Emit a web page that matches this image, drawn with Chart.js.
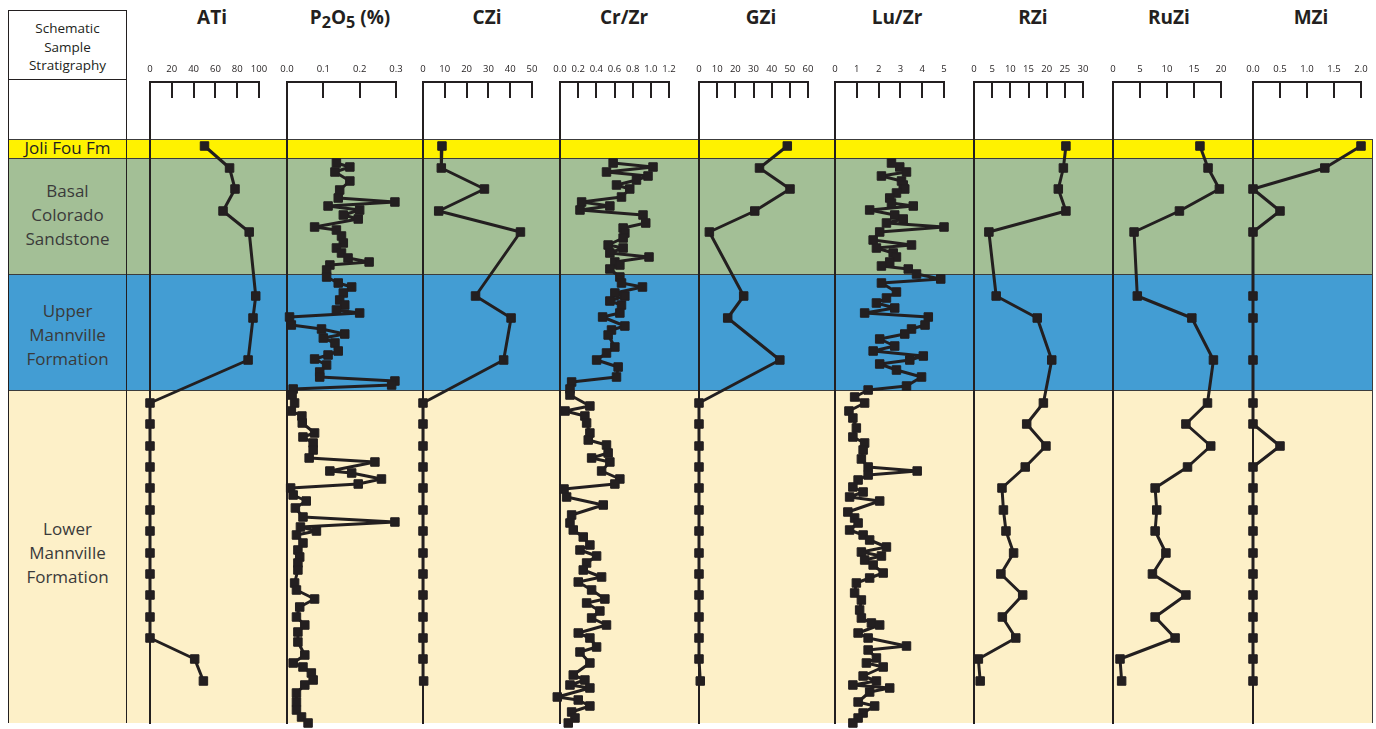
<!DOCTYPE html>
<html><head><meta charset="utf-8">
<script src="https://cdn.jsdelivr.net/npm/chart.js@4.4.1/dist/chart.umd.min.js"></script>
<style>
html,body{margin:0;padding:0;background:#fff;}
#wrap{position:relative;width:1376px;height:729px;overflow:hidden;font-family:"Open Sans",sans-serif;color:#231f20;}
#frame{position:absolute;left:8px;top:139px;width:1365px;height:584px;box-sizing:border-box;border:1px solid #3c3c3c;border-top:none;}
.band{position:absolute;left:0;width:100%;box-sizing:border-box;border-top:1.5px solid #3c3c3c;}
#leftbox{position:absolute;left:8px;top:10px;width:119px;height:713px;box-sizing:border-box;border:1.3px solid #231f20;border-bottom:none;}
#hdrline{position:absolute;left:0;top:68px;width:100%;border-top:1.3px solid #231f20;}
.hdr{position:absolute;left:0;width:100%;text-align:center;font-size:13.5px;line-height:18.5px;top:8px;}
.blab{position:absolute;left:8px;width:119px;text-align:center;font-size:17px;line-height:24px;color:#3a3a3a;}
canvas.panel{position:absolute;top:0;}
.title{position:absolute;top:8px;font-weight:700;font-size:19px;line-height:19px;color:#231f20;transform:translateX(-50%);white-space:nowrap;}
.title sub{font-size:0.85em;vertical-align:-0.22em;line-height:0;}
</style>
</head><body>
<div id="wrap">
  <div id="frame">
    <div class="band" style="top:0;height:19px;background:#fff200;"></div>
    <div class="band" style="top:19px;height:116px;background:#a3bf96;"></div>
    <div class="band" style="top:135px;height:116px;background:#439dd3;"></div>
    <div class="band" style="top:251px;height:333px;background:#fdf0c8;"></div>
  </div>
  <div id="leftbox">
    <div class="hdr">Schematic<br>Sample<br>Stratigraphy</div>
    <div id="hdrline"></div>
  </div>
  <div class="blab" style="top:137px;font-size:17px;line-height:22px;color:#231f20;">Joli Fou Fm</div>
  <div class="blab" style="top:179px;">Basal<br>Colorado<br>Sandstone</div>
  <div class="blab" style="top:299px;">Upper<br>Mannville<br>Formation</div>
  <div class="blab" style="top:517px;">Lower<br>Mannville<br>Formation</div>
</div>
<script>
// ---------- DATA ----------
const panelTitles = ['ATi', 'P<sub>2</sub>O<sub>5</sub> (%)', 'CZi', 'Cr/Zr', 'GZi', 'Lu/Zr', 'RZi', 'RuZi', 'MZi'];

// tick labels of each top axis
const atiTicks  = ['0','20','40','60','80','100'];
const p2o5Ticks = ['0.0','0.1','0.2','0.3'];
const cziTicks  = ['0','10','20','30','40','50'];
const crTicks   = ['0.0','0.2','0.4','0.6','0.8','1.0','1.2'];
const gziTicks  = ['0','10','20','30','40','50','60'];
const luTicks   = ['0','1','2','3','4','5'];
const rziTicks  = ['0','5','10','15','20','25','30'];
const ruziTicks = ['0','5','10','15','20'];
const mziTicks  = ['0.0','0.5','1.0','1.5','2.0'];

// relative sample depth (0 = top of plotting frame, increasing downwards)
const coarseDepth = [48,70,91,113,134,198,220,262,305,326,348,369,390,412,433,455,476,497,519,540,561,583];
const atiValues  = [50,73,78,67,91,97,94.5,90,0,0,0,0,0,0,0,0,0,0,0,0,41,49];
const cziValues  = [8.7,8.4,28.2,7.2,44.7,24.1,40.4,37.0,0,0,0,0,0,0,0,0,0,0,0,0,0,0.3];
const gziValues  = [48.6,33.3,50.1,30.7,5.7,24.6,15.8,44.5,0,0,0,0,0,0,0,0,0,0,0,0,0,0.7];
const rziValues  = [25.3,24.6,23.2,25.3,4.1,6.1,17.4,21.4,19.1,14.5,19.8,14.1,7.7,8.1,8.8,10.9,7.4,13.4,7.8,11.5,1.2,1.7];
const ruziValues = [16.1,17.6,19.7,12.3,3.9,4.5,14.6,18.6,17.5,13.5,18.1,13.8,7.8,8.1,7.8,9.8,7.3,13.5,7.8,11.5,1.3,1.6];
const mziValues  = [2.0,1.33,0,0.5,0,0,0,0,0,0,0.5,0,0,0,0,0,0,0,0,0,0,0];

const p2o5Depth = [65,69,74,83,92,100,104,108,112,117,121,129,132,138,145,150,155,160,164,167,172,179,185,189,195,202,207,212,215,219,227,231,236,240,245,253,257,261,267,274,279,283,287,291,297,305,313,318,325,335,339,345,352,360,364,373,375,381,386,390,397,403,410,419,424,429,433,437,445,452,459,465,472,485,492,501,509,519,527,534,544,557,565,569,575,582,587,595,604,612,619,625];
const p2o5Values = [.136,.173,.132,.173,.145,.141,.297,.113,.200,.155,.196,.076,.136,.150,.155,.136,.150,.168,.226,.118,.109,.109,.141,.178,.155,.145,.159,.136,.200,.007,.012,.095,.159,.100,.132,.141,.113,.076,.109,.090,.090,.297,.288,.017,.014,.021,.012,.041,.042,.076,.044,.072,.072,.061,.242,.118,.178,.260,.196,.010,.017,.053,.023,.044,.297,.037,.081,.026,.044,.030,.035,.030,.030,.021,.026,.076,.035,.026,.049,.030,.030,.049,.017,.044,.067,.072,.049,.026,.026,.026,.040,.058];

const crDepth = [65,69,74,78,82,87,91,99,104,108,112,117,125,130,135,140,147,150,155,159,164,167,171,179,185,189,195,198,203,207,215,219,228,232,237,249,255,262,269,279,284,291,297,308,313,318,325,335,342,347,355,360,364,373,381,386,391,399,407,417,425,432,439,447,452,458,465,472,479,484,492,501,505,513,520,527,535,540,549,554,565,577,582,587,590,599,602,608,614,620,625];
const crValues = [.585,1.024,.512,.969,.842,.622,.768,.677,.238,.549,.220,.914,.944,.695,.714,.695,.530,.695,.549,.980,.604,.659,.549,.659,.677,.908,.604,.714,.549,.677,.659,.469,.714,.567,.530,.604,.512,.403,.640,.622,.128,.110,.110,.329,.055,.274,.293,.329,.311,.512,.530,.348,.549,.458,.659,.604,.044,.073,.476,.128,.110,.146,.256,.329,.220,.403,.293,.256,.458,.201,.348,.494,.293,.439,.348,.512,.201,.329,.403,.220,.329,.146,.274,.110,.329,-.03,.201,.329,.128,.165,.091];

const luDepth = [65,69,74,78,83,87,91,95,100,105,108,112,117,121,125,129,134,142,147,150,155,159,164,168,171,176,181,185,194,200,205,210,215,219,227,231,236,241,248,253,258,262,266,272,279,288,292,299,305,313,320,330,339,345,352,361,369,373,377,382,389,394,399,403,414,420,425,432,437,442,449,454,458,462,467,475,480,485,495,502,512,520,525,527,535,540,548,552,560,565,569,578,583,587,590,594,604,608,615,620,625];
const luValues = [2.59,2.97,3.28,2.13,3.05,3.13,3.20,2.82,2.51,2.59,3.59,1.59,2.74,3.13,2.36,5.0,2.05,1.75,3.51,1.90,2.67,2.82,2.51,2.13,3.36,3.74,4.85,2.13,2.82,2.36,1.90,2.74,1.36,4.28,4.13,3.51,3.20,2.05,2.74,1.75,4.05,3.43,2.05,2.82,3.97,3.28,1.52,0.90,1.36,0.64,0.82,0.98,0.82,1.36,1.29,1.21,1.52,3.77,1.52,1.06,0.82,1.29,0.67,2.05,0.59,0.90,1.06,0.67,1.29,1.59,2.36,1.21,2.13,1.36,1.75,2.21,1.59,0.98,0.90,1.21,1.13,1.21,1.67,2.05,1.06,1.52,3.28,1.52,1.90,1.44,2.21,1.29,1.90,0.82,2.51,1.59,1.06,1.82,1.29,1.06,0.82];

// ---------- LAYOUT (pixel placement of each panel) ----------
const panelLeft  = [150, 287.3, 423.3, 560, 698.7, 835.4, 973.8, 1113, 1253];
const panelWidth = [109.3, 108.7, 109.4, 109.3, 108.6, 108.6, 109.2, 108.2, 108];
const titleCenter = [212, 350, 487, 624, 761, 897, 1033, 1169, 1311];

const series = [
  {ticks: atiTicks,  depth: coarseDepth, values: atiValues},
  {ticks: p2o5Ticks, depth: p2o5Depth,  values: p2o5Values},
  {ticks: cziTicks,  depth: coarseDepth, values: cziValues},
  {ticks: crTicks,   depth: crDepth,    values: crValues},
  {ticks: gziTicks,  depth: coarseDepth, values: gziValues},
  {ticks: luTicks,   depth: luDepth,    values: luValues},
  {ticks: rziTicks,  depth: coarseDepth, values: rziValues},
  {ticks: ruziTicks, depth: coarseDepth, values: ruziValues},
  {ticks: mziTicks,  depth: coarseDepth, values: mziValues}
];

const INK = '#231f20';
const TICK_LEN = 16;
const DEPTH_MAX = 625;

const axisDeco = {
  id: 'axisDeco',
  beforeDatasetsDraw(chart) {
    const {ctx, chartArea, scales} = chart;
    const x = scales.x;
    const xa = x.getPixelForValue(x.min), xb = x.getPixelForValue(x.max);
    const top = chartArea.top - TICK_LEN;
    ctx.save();
    ctx.strokeStyle = INK;
    ctx.lineWidth = 2;
    ctx.lineCap = 'square';
    ctx.beginPath();
    ctx.moveTo(xa, top); ctx.lineTo(xb, top);
    ctx.moveTo(xa, top); ctx.lineTo(xa, chartArea.bottom);
    ctx.stroke();
    ctx.restore();
  }
};

const wrap = document.getElementById('wrap');
series.forEach((s, i) => {
  const t = document.createElement('div');
  t.className = 'title';
  t.style.left = titleCenter[i] + 'px';
  t.innerHTML = panelTitles[i];
  wrap.appendChild(t);

  const padL = 20;
  const w = Math.round(panelWidth[i]);
  const cv = document.createElement('canvas');
  cv.className = 'panel';
  cv.width = w + 2 * padL;
  cv.height = 729;
  cv.style.left = (Math.round(panelLeft[i]) - padL) + 'px';
  cv.style.width = cv.width + 'px';
  cv.style.height = '729px';
  wrap.appendChild(cv);

  const tickVals = s.ticks.map(Number);
  const pts = s.depth.map((d, k) => ({x: s.values[k], y: d}));

  new Chart(cv, {
    type: 'scatter',
    data: {datasets: [{
      data: pts,
      showLine: true,
      borderColor: INK,
      borderWidth: 3,
      borderJoinStyle: 'round',
      pointStyle: 'rect',
      pointRadius: 6,
      pointBorderWidth: 1,
      pointBackgroundColor: INK,
      pointBorderColor: INK,
      clip: false
    }]},
    options: {
      responsive: false,
      animation: false,
      events: [],
      layout: {autoPadding: false, padding: {left: padL, right: padL, top: 56.6, bottom: 6}},
      plugins: {legend: {display: false}, tooltip: {enabled: false}, title: {display: false}},
      scales: {
        x: {
          type: 'linear', position: 'top',
          min: tickVals[0], max: tickVals[tickVals.length - 1],
          afterBuildTicks: sc => { sc.ticks = tickVals.map(v => ({value: v})); },
          ticks: {
            autoSkip: false, maxRotation: 0, padding: 7,
            color: INK, font: {family: 'Open Sans', size: 9.5},
            callback: (v, idx) => s.ticks[idx]
          },
          grid: {display: true, drawOnChartArea: false, drawTicks: true, tickLength: TICK_LEN, color: INK, lineWidth: 2},
          border: {display: false}
        },
        y: {type: 'linear', reverse: true, min: 0, max: DEPTH_MAX, display: false}
      }
    },
    plugins: [axisDeco]
  });
});
</script>
</body></html>
